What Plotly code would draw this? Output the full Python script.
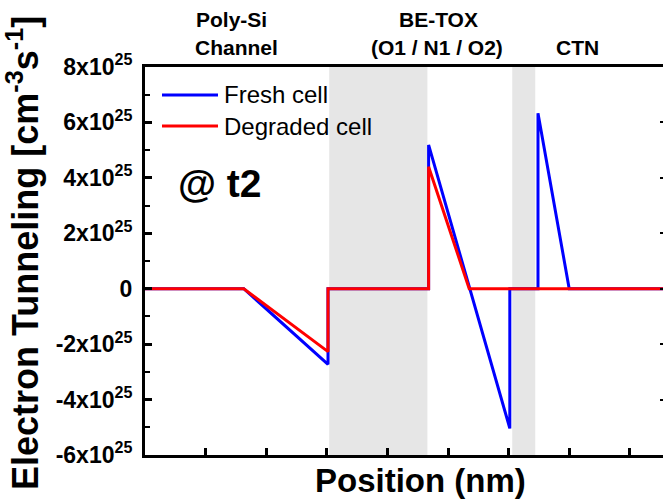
import plotly.graph_objects as go

# ---- data (positions in tick units, values in cm^-3 s^-1) ----
x_fresh = [0, 1.63, 3.02, 3.02, 4.68, 4.68, 6.02, 6.02, 6.485, 6.485, 7.0, 8.6]
y_fresh = [0, 0, -2.73e25, 0, 0, 5.19e25, -5.04e25, 0, 0, 6.33e25, 0, 0]

x_degraded = [0, 1.63, 3.02, 3.02, 4.68, 4.68, 5.35, 8.6]
y_degraded = [0, 0, -2.27e25, 0, 0, 4.40e25, 0, 0]

series_names = ["Fresh cell", "Degraded cell"]
series_colors = ["#0000ff", "#ff0000"]

band_starts = [3.04, 6.06]
band_ends = [4.66, 6.44]

y_tickvals = [-6e25, -4e25, -2e25, 0, 2e25, 4e25, 6e25, 8e25]
y_ticktext = ["-6x10<sup>25</sup>", "-4x10<sup>25</sup>", "-2x10<sup>25</sup>", "0",
              "2x10<sup>25</sup>", "4x10<sup>25</sup>", "6x10<sup>25</sup>", "8x10<sup>25</sup>"]
x_tickvals = [1, 2, 3, 4, 5, 6, 7, 8]

W, H = 663, 504
L, R, T, B = 145, 0, 67, 49
PW, PH = W - L - R, H - T - B

def px(x):
    return (x - L) / PW

def py(y):
    return (H - B - y) / PH

FONT = "Liberation Sans, Arial, sans-serif"

fig = go.Figure()

for xs, ys, name, col in zip([x_fresh, x_degraded], [y_fresh, y_degraded],
                             series_names, series_colors):
    fig.add_trace(go.Scatter(x=xs, y=ys, mode="lines", name=name, showlegend=False,
                             line=dict(color=col, width=3)))

for s, e in zip(band_starts, band_ends):
    fig.add_shape(type="rect", xref="x", yref="paper", x0=s, x1=e, y0=0, y1=1,
                  fillcolor="#e6e6e6", line=dict(width=0), layer="below")

fig.update_layout(
    width=W, height=H,
    margin=dict(l=L, r=R, t=T, b=B, pad=0),
    paper_bgcolor="white", plot_bgcolor="white",
    font=dict(family=FONT, color="black"),
    showlegend=False,
    xaxis=dict(range=[0, (W - R - L) / 60.6], showgrid=False, zeroline=False,
               tickvals=x_tickvals, showticklabels=False,
               ticks="inside", ticklen=7, tickwidth=3, tickcolor="black",
               showline=True, linewidth=3, linecolor="black", mirror=True),
    yaxis=dict(range=[-6e25, 8e25], showgrid=False, zeroline=False,
               tickvals=y_tickvals, ticktext=y_ticktext,
               tickfont=dict(size=23, family=FONT, weight="bold"),
               ticks="inside", ticklen=7, tickwidth=3, tickcolor="black",
               ticklabelstandoff=5,
               minor=dict(dtick=1e25, ticks="inside", ticklen=5, tickwidth=2, tickcolor="black"),
               showline=True, linewidth=3, linecolor="black", mirror=False),
    yaxis2=dict(range=[-6e25, 8e25], overlaying="y", side="right", showgrid=False,
                zeroline=False, tickvals=y_tickvals, showticklabels=False,
                ticks="inside", ticklen=3, tickwidth=2, tickcolor="black", showline=False),
)

# invisible trace to attach the right-hand axis
fig.add_trace(go.Scatter(x=[0], y=[0], yaxis="y2", mode="lines", showlegend=False,
                         hoverinfo="skip", line=dict(width=0), opacity=0))

def ann(text, x, y, size, bold=True, xanchor="center", angle=0):
    fig.add_annotation(text=text, xref="paper", yref="paper", x=px(x), y=py(y),
                       xanchor=xanchor, yanchor="middle", showarrow=False,
                       textangle=angle,
                       font=dict(size=size, family=FONT, color="black",
                                 weight="bold" if bold else "normal"))

# hand-drawn legend
for i, (name, col) in enumerate(zip(series_names, series_colors)):
    ly = 95 + 31 * i
    fig.add_shape(type="line", xref="paper", yref="paper",
                  x0=px(162), x1=px(218), y0=py(ly), y1=py(ly),
                  line=dict(color=col, width=3))
    ann(name, 222, ly, 24, bold=False, xanchor="left")

ann("Poly-Si", 231, 19, 21)
ann("Channel", 236, 48, 21)
ann("BE-TOX", 438, 19, 21)
ann("(O1 / N1 / O2)", 437, 48, 21)
ann("CTN", 577, 48, 21)
ann("@ t2", 176, 183, 39, xanchor="left")
ann("Position (nm)", 420, 480, 33)
ann("Electron Tunneling [cm<sup>-3</sup>s<sup>-1</sup>]", 23, 253, 36, angle=-90)

fig.write_html("out.html")
